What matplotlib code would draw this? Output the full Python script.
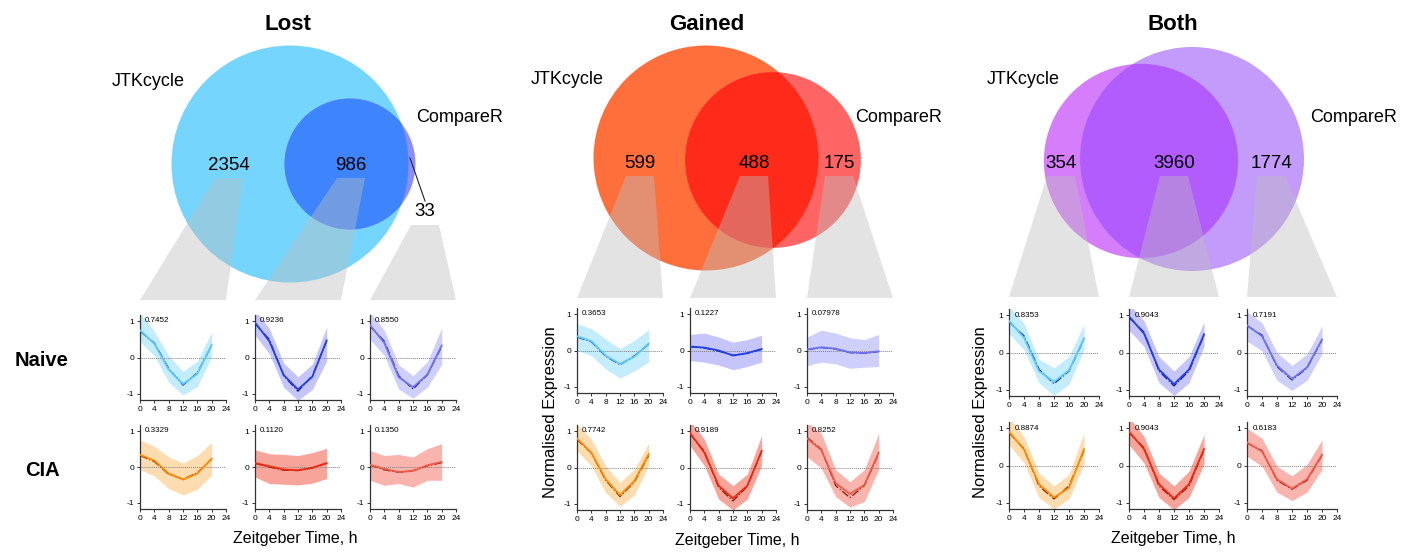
"""
    Lost / Gained / Both rhythmic genes: Venn diagrams with mean profiles
"""

import numpy as np
import matplotlib
matplotlib.use('Agg')
import matplotlib.pyplot as plt
from matplotlib.patches import Circle, Polygon

plt.rcParams['font.family'] = ['Liberation Sans', 'DejaVu Sans']
plt.rcParams['axes.unicode_minus'] = False

W, H = 1406, 552

hours = [0, 4, 8, 12, 16, 20]
xticks = [0, 4, 8, 12, 16, 20, 24]
yticks = [-1, 0, 1]

group_names = ['Lost', 'Gained', 'Both']
set_names = ['JTKcycle', 'CompareR']
conditions = ['Naive', 'CIA']

# JTKcycle only, shared, CompareR only
lost_counts = [2354, 986, 33]
gained_counts = [599, 488, 175]
both_counts = [354, 3960, 1774]

# rows: Naive, CIA ; columns: JTKcycle only, shared, CompareR only
lost_r = [['0.7452', '0.9236', '0.8550'], ['0.3329', '0.1120', '0.1350']]
gained_r = [['0.3653', '0.1227', '0.07978'], ['0.7742', '0.9189', '0.8252']]
both_r = [['0.8353', '0.9043', '0.7191'], ['0.8874', '0.9043', '0.6183']]

# mean normalised expression, upper / lower band, fitted curve
lost_naive_mean = [[0.75, 0.38, -0.33, -0.73, -0.45, 0.35],
                   [0.96, 0.45, -0.48, -0.88, -0.53, 0.47],
                   [0.89, 0.40, -0.54, -0.82, -0.47, 0.33]]
lost_naive_hi = [[1.25, 0.72, 0.05, -0.38, -0.10, 0.70],
                 [1.30, 0.80, -0.15, -0.53, -0.18, 0.84],
                 [1.25, 0.75, -0.20, -0.50, -0.12, 0.82]]
lost_naive_lo = [[0.43, 0.05, -0.68, -1.03, -0.80, 0.02],
                 [0.62, 0.10, -0.82, -1.18, -0.88, -0.10],
                 [0.50, 0.05, -0.87, -1.12, -0.82, -0.19]]
lost_naive_fit = [[0.72, 0.40, -0.30, -0.76, -0.42, 0.33],
                  [0.93, 0.50, -0.50, -0.93, -0.50, 0.45],
                  [0.86, 0.45, -0.50, -0.87, -0.48, 0.30]]

lost_cia_mean = [[0.34, 0.18, -0.18, -0.35, -0.18, 0.23],
                 [0.11, 0.02, -0.07, -0.09, -0.02, 0.11],
                 [0.06, -0.05, -0.14, -0.11, 0.05, 0.14]]
lost_cia_hi = [[0.75, 0.58, 0.28, 0.11, 0.32, 0.69],
               [0.48, 0.37, 0.35, 0.32, 0.40, 0.52],
               [0.46, 0.32, 0.35, 0.28, 0.51, 0.65]]
lost_cia_lo = [[-0.07, -0.25, -0.60, -0.78, -0.62, -0.23],
               [-0.28, -0.46, -0.48, -0.50, -0.45, -0.32],
               [-0.37, -0.51, -0.46, -0.56, -0.37, -0.37]]
lost_cia_fit = [[0.32, 0.15, -0.20, -0.34, -0.16, 0.22],
                [0.10, 0.00, -0.09, -0.10, -0.03, 0.10],
                [0.05, -0.08, -0.15, -0.10, 0.03, 0.12]]

gained_naive_mean = [[0.39, 0.26, -0.14, -0.37, -0.17, 0.19],
                     [0.11, 0.08, 0.00, -0.14, -0.07, 0.04],
                     [0.03, 0.09, 0.05, -0.05, -0.07, -0.02]]
gained_naive_hi = [[0.74, 0.60, 0.32, 0.05, 0.28, 0.57],
                   [0.44, 0.48, 0.37, 0.23, 0.30, 0.42],
                   [0.37, 0.56, 0.48, 0.35, 0.30, 0.44]]
gained_naive_lo = [[0.00, -0.14, -0.51, -0.76, -0.56, -0.32],
                   [-0.28, -0.32, -0.40, -0.53, -0.44, -0.32],
                   [-0.42, -0.32, -0.37, -0.49, -0.46, -0.44]]
gained_naive_fit = [[0.37, 0.24, -0.16, -0.39, -0.15, 0.17],
                    [0.10, 0.07, -0.02, -0.13, -0.08, 0.03],
                    [0.02, 0.08, 0.04, -0.06, -0.08, -0.03]]

gained_cia_mean = [[0.80, 0.41, -0.32, -0.76, -0.37, 0.37],
                   [0.95, 0.41, -0.50, -0.85, -0.50, 0.46],
                   [0.80, 0.48, -0.43, -0.73, -0.48, 0.41]]
gained_cia_hi = [[1.20, 0.78, 0.05, -0.41, -0.05, 0.67],
                 [1.30, 0.78, -0.18, -0.50, -0.18, 0.88],
                 [1.25, 0.94, -0.06, -0.39, -0.06, 0.94]]
gained_cia_lo = [[0.46, 0.05, -0.69, -1.07, -0.76, 0.05],
                 [0.60, 0.05, -0.87, -1.17, -0.87, 0.05],
                 [0.30, -0.02, -0.80, -1.09, -0.94, -0.06]]
gained_cia_fit = [[0.77, 0.40, -0.35, -0.80, -0.40, 0.33],
                  [0.92, 0.45, -0.55, -0.92, -0.52, 0.44],
                  [0.83, 0.50, -0.50, -0.83, -0.50, 0.38]]

both_naive_mean = [[0.85, 0.40, -0.50, -0.79, -0.48, 0.38],
                   [0.97, 0.51, -0.46, -0.85, -0.46, 0.49],
                   [0.73, 0.44, -0.35, -0.71, -0.40, 0.35]]
both_naive_hi = [[1.25, 0.78, -0.18, -0.41, -0.11, 0.76],
                 [1.30, 0.86, -0.11, -0.50, -0.11, 0.82],
                 [1.10, 0.80, 0.00, -0.35, -0.04, 0.71]]
both_naive_lo = [[0.51, 0.07, -0.81, -1.15, -0.85, 0.07],
                 [0.60, 0.16, -0.81, -1.16, -0.81, 0.16],
                 [0.31, 0.04, -0.75, -1.02, -0.75, -0.04]]
both_naive_fit = [[0.82, 0.45, -0.45, -0.84, -0.50, 0.36],
                  [0.94, 0.55, -0.50, -0.90, -0.50, 0.46],
                  [0.72, 0.47, -0.38, -0.74, -0.42, 0.33]]

both_cia_mean = [[0.91, 0.43, -0.50, -0.86, -0.60, 0.44],
                 [0.91, 0.44, -0.50, -0.89, -0.50, 0.44],
                 [0.62, 0.38, -0.37, -0.62, -0.37, 0.29]]
both_cia_hi = [[1.30, 0.78, -0.20, -0.55, -0.24, 0.87],
               [1.30, 0.78, -0.20, -0.55, -0.15, 0.83],
               [1.00, 0.73, -0.02, -0.28, 0.03, 0.69]]
both_cia_lo = [[0.56, 0.07, -0.86, -1.17, -0.90, 0.03],
               [0.56, 0.07, -0.86, -1.19, -0.86, 0.03],
               [0.25, -0.02, -0.72, -0.94, -0.72, -0.11]]
both_cia_fit = [[0.88, 0.45, -0.55, -0.90, -0.55, 0.40],
                [0.88, 0.48, -0.55, -0.92, -0.55, 0.42],
                [0.60, 0.40, -0.40, -0.64, -0.40, 0.27]]

groups = [
    dict(counts=lost_counts, r=lost_r,
         mean=[lost_naive_mean, lost_cia_mean], hi=[lost_naive_hi, lost_cia_hi],
         lo=[lost_naive_lo, lost_cia_lo], fit=[lost_naive_fit, lost_cia_fit]),
    dict(counts=gained_counts, r=gained_r,
         mean=[gained_naive_mean, gained_cia_mean], hi=[gained_naive_hi, gained_cia_hi],
         lo=[gained_naive_lo, gained_cia_lo], fit=[gained_naive_fit, gained_cia_fit]),
    dict(counts=both_counts, r=both_r,
         mean=[both_naive_mean, both_cia_mean], hi=[both_naive_hi, both_cia_hi],
         lo=[both_naive_lo, both_cia_lo], fit=[both_naive_fit, both_cia_fit]),
]

# ---- layout (pixels) ----
layout = [
    dict(cols=[140, 255, 370], width=86, tops=[315, 425], bottoms=[400, 509],
         centers=[(290, 164), (350, 164)], rmax=118.5, title_x=288,
         num_pos=[(229, 165), (351, 165), (425, 212)], jtk=(148, 82), cmp=(416, 118),
         trap_bottom=300, xlabel=(295, 538), ylabel=None),
    dict(cols=[577, 690, 807], width=86, tops=[308, 425], bottoms=[393, 510],
         centers=[(706, 158), (773, 160)], rmax=112.5, title_x=707,
         num_pos=[(640, 163), (754, 163), (839, 163)], jtk=(567, 80), cmp=(855, 117),
         trap_bottom=298, xlabel=(737, 540), ylabel=(551, 412)),
    dict(cols=[1009, 1129, 1247], width=90, tops=[309, 422], bottoms=[396, 509],
         centers=[(1141, 161), (1192, 159)], rmax=112, title_x=1173,
         num_pos=[(1061, 163), (1174, 163), (1271, 163)], jtk=(1023, 80), cmp=(1310, 118),
         trap_bottom=297, xlabel=(1173, 538), ylabel=(981, 412)),
]

venn_colors = [['#76d5fd', '#8e8cf8', '#3e85fd'],
               ['#fe6f3c', '#ff6565', '#ff2b1a'],
               ['#d67dfb', '#c39bfb', '#b25cfe']]

band_colors = [['#c3ecfd', '#c5c5fa', '#cfcffb'],
               ['#fddcb0', '#f7a59a', '#f9b5ad']]
line_colors = [['#5ac8fa', '#2040e8', '#6e72f0'],
               ['#ff8a00', '#f0280f', '#ee5a48']]
fit_colors = ['#1a1a80', '#801800']


def px_rect(left, top, right, bottom):
    return [left / W, 1 - bottom / H, (right - left) / W, (bottom - top) / H]


def draw_venn(ax, counts, centers, rmax, colors):
    sizes = [counts[0] + counts[1], counts[1] + counts[2]]
    radii = [rmax * np.sqrt(s / max(sizes)) for s in sizes]
    ca = Circle(centers[0], radii[0], fc=colors[0], ec='none', zorder=1)
    cb = Circle(centers[1], radii[1], fc=colors[1], ec='none', zorder=1)
    ax.add_patch(ca)
    ax.add_patch(cb)
    inter = Circle(centers[1], radii[1], fc=colors[2], ec='none', zorder=2)
    ax.add_patch(inter)
    inter.set_clip_path(ca)


def main():
    fig = plt.figure(figsize=(W / 100, H / 100), dpi=100)
    base = fig.add_axes([0, 0, 1, 1])
    base.set_xlim(0, W)
    base.set_ylim(H, 0)
    base.axis('off')

    for gi, (g, lay) in enumerate(zip(groups, layout)):
        draw_venn(base, g['counts'], lay['centers'], lay['rmax'], venn_colors[gi])
        base.text(lay['title_x'], 25, group_names[gi], fontsize=16, fontweight='bold',
                  ha='center', va='center', zorder=5)
        base.text(lay['jtk'][0], lay['jtk'][1], set_names[0], fontsize=13,
                  ha='center', va='center', zorder=5)
        base.text(lay['cmp'][0], lay['cmp'][1], set_names[1], fontsize=13,
                  ha='left', va='center', zorder=5)

        for ci, (nx, ny) in enumerate(lay['num_pos']):
            base.text(nx, ny, str(g['counts'][ci]), fontsize=13.5,
                      ha='center', va='center', zorder=5)
            left = lay['cols'][ci]
            trap = Polygon([(nx - 14, ny + 13), (nx + 14, ny + 13),
                            (left + lay['width'], lay['trap_bottom']),
                            (left, lay['trap_bottom'])],
                           closed=True, fc='#bdbdbd', ec='none', alpha=0.41, zorder=3)
            base.add_patch(trap)

        if gi == 0:
            nx, ny = lay['num_pos'][2]
            base.plot([nx - 15, nx], [ny - 54, ny - 11], color='#222222', lw=0.8, zorder=5)

        base.text(lay['xlabel'][0], lay['xlabel'][1], 'Zeitgeber Time, h', fontsize=11.5,
                  ha='center', va='center')
        if lay['ylabel'] is not None:
            base.text(lay['ylabel'][0], lay['ylabel'][1], 'Normalised Expression',
                      fontsize=12, rotation=90, ha='center', va='center')

        for ri in range(2):
            for ci in range(3):
                left = lay['cols'][ci]
                ax = fig.add_axes(px_rect(left, lay['tops'][ri],
                                          left + lay['width'], lay['bottoms'][ri]))
                ax.fill_between(hours, g['lo'][ri][ci], g['hi'][ri][ci],
                                color=band_colors[ri][ci], lw=0, zorder=1)
                ax.axhline(0, color='#808080', ls=(0, (1, 1)), lw=0.7, zorder=2)
                ax.plot(hours, g['fit'][ri][ci], color=fit_colors[ri], lw=0.9,
                        ls='-.', zorder=3)
                ax.plot(hours, g['mean'][ri][ci], color=line_colors[ri][ci], lw=1.3, zorder=4)
                ax.text(0.06, 0.93, g['r'][ri][ci], transform=ax.transAxes,
                        fontsize=5.8, ha='left', va='center', zorder=5)
                ax.set_xlim(0, 24)
                ax.set_ylim(-1.17, 1.17)
                ax.set_xticks(xticks)
                ax.set_yticks(yticks)
                ax.patch.set_alpha(0)
                for s in ['top', 'right']:
                    ax.spines[s].set_visible(False)
                for s in ['left', 'bottom']:
                    ax.spines[s].set_linewidth(0.9)
                    ax.spines[s].set_color('#333333')
                ax.tick_params(labelsize=6, length=2.5, width=0.7, pad=1.5,
                               color='#333333')

    fig.text(42 / W, 1 - 360 / H, conditions[0], fontsize=14.5, fontweight='bold',
             ha='center', va='center')
    fig.text(42 / W, 1 - 470 / H, conditions[1], fontsize=14.5, fontweight='bold',
             ha='center', va='center')

    fig.savefig('out.png', dpi=100)


if __name__ == '__main__':
    main()
